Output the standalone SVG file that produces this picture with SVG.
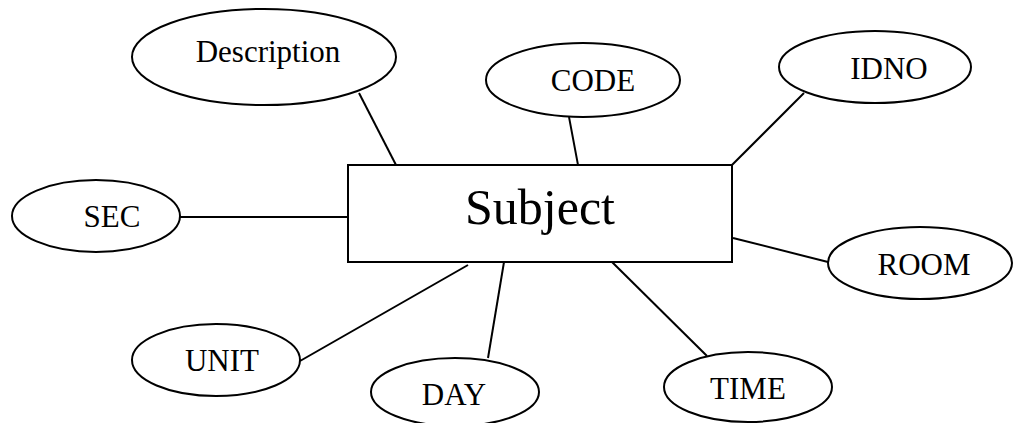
<svg xmlns="http://www.w3.org/2000/svg" width="1015" height="423" viewBox="0 0 1015 423">
<style>
.s{fill:#fff;stroke:#000;stroke-width:2}
.t{font-family:"Liberation Serif",serif;font-size:31px;text-anchor:middle;fill:#000}
.c line{stroke:#000;stroke-width:2}
</style>
<rect width="1015" height="423" fill="#fff"/>
<g class="c" id="connectors">
<line x1="359" y1="93" x2="396" y2="165"/>
<line x1="179" y1="217" x2="348" y2="217"/>
<line x1="569" y1="117" x2="578" y2="165"/>
<line x1="804" y1="93" x2="732" y2="165"/>
<line x1="733" y1="238" x2="828" y2="262"/>
<line x1="612" y1="262" x2="707" y2="356"/>
<line x1="504" y1="262" x2="488" y2="358"/>
<line x1="468" y1="265" x2="300" y2="361"/>
</g>
<g id="subject"><rect class="s" x="348" y="165" width="384" height="97"/><text class="t" x="540" y="224" style="font-size:50px">Subject</text></g>
<g id="description"><ellipse class="s" cx="264" cy="57" rx="132" ry="48"/><text class="t" x="268" y="62">Description</text></g>
<g id="code"><ellipse class="s" cx="583" cy="80" rx="97" ry="37"/><text class="t" x="593" y="91">CODE</text></g>
<g id="idno"><ellipse class="s" cx="875" cy="67" rx="96" ry="36"/><text class="t" x="889" y="79">IDNO</text></g>
<g id="sec"><ellipse class="s" cx="96" cy="216" rx="84" ry="36"/><text class="t" x="112" y="227">SEC</text></g>
<g id="room"><ellipse class="s" cx="920" cy="263" rx="92" ry="36"/><text class="t" x="924" y="275">ROOM</text></g>
<g id="unit"><ellipse class="s" cx="216" cy="360" rx="84" ry="36"/><text class="t" x="222" y="371">UNIT</text></g>
<g id="day"><ellipse class="s" cx="455" cy="392" rx="84" ry="34"/><text class="t" x="454" y="405">DAY</text></g>
<g id="time"><ellipse class="s" cx="748" cy="387" rx="84" ry="35"/><text class="t" x="748" y="399">TIME</text></g>
</svg>
